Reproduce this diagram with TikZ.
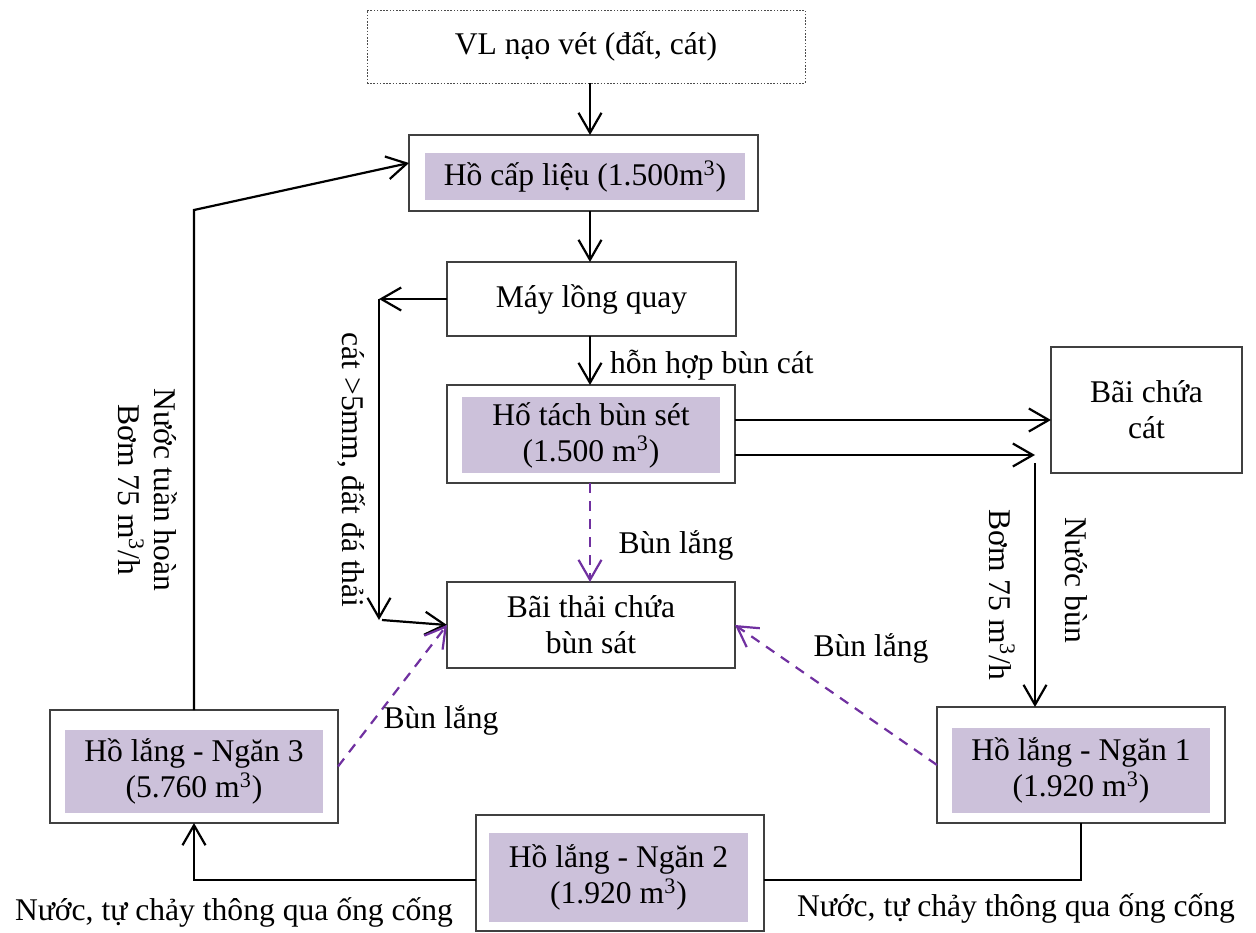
\documentclass[tikz,border=0pt]{standalone}
\usepackage{fontspec}
\setmainfont{Liberation Serif}
\usetikzlibrary{arrows.meta}
\definecolor{lav}{HTML}{CCC1DA}
\definecolor{sludge}{HTML}{7030A0}
\definecolor{frame}{HTML}{404040}

\begin{document}
\begin{tikzpicture}[x=0.5pt,y=-0.5pt,
  every node/.style={font=\fontsize{15.8pt}{18pt}\selectfont, inner sep=0pt, outer sep=0pt},
  box/.style={draw=frame, line width=0.6pt, rectangle},
  pool/.style={fill=lav, align=center},
  flow/.style={line width=1.1pt, -{Straight Barb[length=10pt,width=11.5pt]}},
  pipe/.style={line width=1.1pt},
  settle/.style={draw=sludge, line width=1.1pt, dash pattern=on 5pt off 4pt,
                 -{Straight Barb[length=10pt,width=11.5pt]}},
  lbl/.style={align=center}]
\useasboundingbox (0,0) rectangle (1256,932);

% ---- process boxes ----
\node[box, draw=gray!60!black, line width=0.5pt, dash pattern=on 0.8pt off 0.8pt,
      minimum width=219pt, minimum height=36.5pt] (vl) at (586,46.5) {VL nạo vét (đất, cát)};

\node[box, minimum width=174.5pt, minimum height=38pt] (hcl) at (583.5,173) {};
\node[pool, minimum width=160pt, minimum height=23.5pt] (hclt) at (585,176.5)
     {Hồ cấp liệu (1.500m\textsuperscript{3})};

\node[box, minimum width=144.5pt, minimum height=37pt, align=center] (mlq) at (591.5,299) {Máy lồng quay};

\node[box, minimum width=144pt, minimum height=49pt] (hts) at (591,434) {};
\node[pool, minimum width=129pt, minimum height=38pt] (htst) at (591,435)
     {Hố tách bùn sét\\(1.500 m\textsuperscript{3})};

\node[box, minimum width=144pt, minimum height=43pt, align=center] (bt) at (591,625)
     {Bãi thải chứa\\bùn sát};

\node[box, minimum width=95.5pt, minimum height=63pt, align=center] (bcc) at (1146.5,410)
     {Bãi chứa\\cát};

\node[box, minimum width=144pt, minimum height=58pt] (n1) at (1081,765) {};
\node[pool, minimum width=129pt, minimum height=42.5pt] (n1t) at (1081,770.5)
     {Hồ lắng - Ngăn 1\\(1.920 m\textsuperscript{3})};

\node[box, minimum width=144pt, minimum height=58pt] (n2) at (620,873) {};
\node[pool, minimum width=129.5pt, minimum height=44.5pt] (n2t) at (618.5,877.5)
     {Hồ lắng - Ngăn 2\\(1.920 m\textsuperscript{3})};

\node[box, minimum width=144pt, minimum height=56.5pt] (n3) at (194,766.5) {};
\node[pool, minimum width=129pt, minimum height=41.5pt] (n3t) at (194,771.5)
     {Hồ lắng - Ngăn 3\\(5.760 m\textsuperscript{3})};

% ---- routing points ----
\coordinate (xa) at (590,0);
\coordinate (c1) at (379,299);
\coordinate (c2) at (379,620);
\coordinate (sandy) at (0,420);
\coordinate (p1) at (1035,455);
\coordinate (p2) at (1035,463);
\coordinate (bend) at (194,210);

% ---- main line ----
\draw[flow] (vl.south -| xa) -- (hcl.north -| xa);
\draw[flow] (hcl.south -| xa) -- (mlq.north -| xa);
\draw[flow] (mlq.south -| xa) -- (hts.north -| xa);

% coarse reject
\draw[flow] (mlq.west) -- (c1);
\draw[flow] (c1) -- (c2);
\draw[flow] ([xshift=1.5pt]c2) -- (bt.west);

% sand and slurry out of the separator
\draw[flow] (hts.east |- sandy) -- (bcc.west |- sandy);
\draw[flow] (hts.east |- p1) -- (p1);
\draw[flow] (p2) -- (n1.north -| p2);

% settling ponds in series
\draw[pipe] (n1.south) |- ([yshift=-3.5pt]n2.east);
\draw[flow] ([yshift=-3.5pt]n2.west) -| (n3.south);

% recirculated water
\draw[flow] (n3.north) -- (bend) -- ([yshift=5pt]hcl.west);

% settled sludge
\draw[settle] (hts.south -| xa) -- (bt.north -| xa);
\draw[settle] (n1.west) -- (bt.east);
\draw[settle] (n3.east) -- (bt.west);

% ---- labels ----
\node[anchor=west] (lmix) at (610,365) {hỗn hợp bùn cát};
\node (ls1) at (676,545) {Bùn lắng};
\node (ls2) at (871,648) {Bùn lắng};
\node (ls3) at (441,720) {Bùn lắng};
\node[rotate=-90] (lrej) at (352,470) {cát >5mm, đất đá thải};
\node[lbl, rotate=-90] (lrec) at (148,490) {Nước tuần hoàn\\Bơm 75 m\textsuperscript{3}/h};
\node[rotate=-90] (lpump) at (1002,595) {Bơm 75 m\textsuperscript{3}/h};
\node[rotate=-90] (lmud) at (1076,580) {Nước bùn};
\node (lw1) at (234,912) {Nước, tự chảy thông qua ống cống};
\node (lw2) at (1016,908) {Nước, tự chảy thông qua ống cống};
\end{tikzpicture}
\end{document}
